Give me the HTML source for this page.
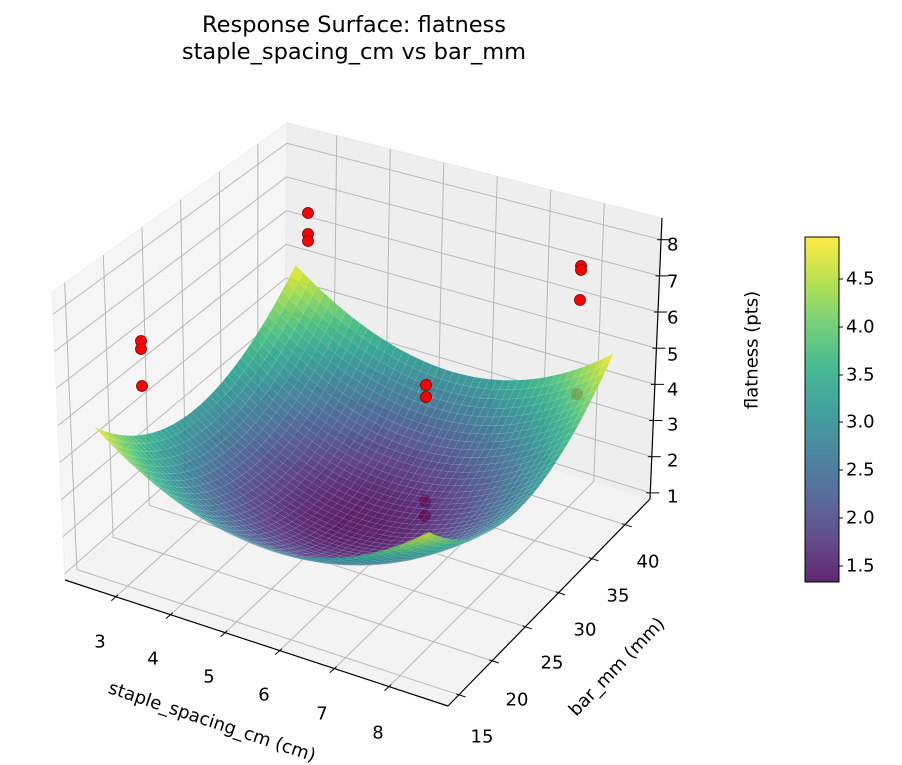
<!DOCTYPE html>
<html><head><meta charset="utf-8"><style>
html,body{margin:0;padding:0;background:#fff;}
svg{display:block;font-family:"DejaVu Sans","Liberation Sans",sans-serif;}
</style></head><body>
<svg id="s" width="902" height="765" viewBox="0 0 902 765" xmlns="http://www.w3.org/2000/svg">
<rect width="902" height="765" fill="#fff"/>
<g id="panes"></g><g id="grid"></g><g id="hidden"></g><g id="surf"></g><g id="axes"></g><g id="pts"></g>
<g font-size="22.5" text-anchor="middle" dominant-baseline="central">
<text x="354" y="25">Response Surface: flatness</text>
<text x="354" y="52">staple_spacing_cm vs bar_mm</text></g>
<g font-size="18" text-anchor="middle" dominant-baseline="central">
<text x="100" y="642">3</text><text x="153" y="659">4</text><text x="209" y="677">5</text>
<text x="264" y="695">6</text><text x="322" y="714">7</text><text x="378" y="733">8</text>
<text x="482" y="737">15</text><text x="517" y="700">20</text><text x="552" y="663">25</text>
<text x="585" y="630">30</text><text x="618" y="596">35</text><text x="648" y="562">40</text>
<g text-anchor="start">
<text x="667" y="497">1</text><text x="667" y="461">2</text><text x="667" y="425">3</text>
<text x="667" y="390">4</text><text x="667" y="355">5</text><text x="667" y="318">6</text>
<text x="667" y="282">7</text><text x="667" y="245">8</text>
</g>
<text transform="translate(212,722) rotate(18.5)">staple_spacing_cm (cm)</text>
<text transform="translate(617,667) rotate(-46)">bar_mm (mm)</text>
<text transform="translate(752,350) rotate(-90)">flatness (pts)</text>
</g>
<defs><linearGradient id="cb" x1="0" y1="1" x2="0" y2="0">
<stop offset="0" stop-color="#440154"/><stop offset="0.125" stop-color="#472d7b"/><stop offset="0.25" stop-color="#3b528b"/>
<stop offset="0.375" stop-color="#2c728e"/><stop offset="0.5" stop-color="#21918c"/><stop offset="0.625" stop-color="#28ae80"/>
<stop offset="0.75" stop-color="#5ec962"/><stop offset="0.875" stop-color="#addc30"/><stop offset="1" stop-color="#fde725"/>
</linearGradient></defs>
<rect x="805" y="237" width="34" height="345" fill="url(#cb)" opacity="0.85"/>
<rect x="805" y="237" width="34" height="345" fill="none" stroke="#000" stroke-width="1"/>
<g stroke="#000" stroke-width="1">
<line x1="839" y1="566" x2="843" y2="566"/><line x1="839" y1="518" x2="843" y2="518"/><line x1="839" y1="470" x2="843" y2="470"/>
<line x1="839" y1="422" x2="843" y2="422"/><line x1="839" y1="375" x2="843" y2="375"/><line x1="839" y1="327" x2="843" y2="327"/>
<line x1="839" y1="279" x2="843" y2="279"/></g>
<g font-size="18" dominant-baseline="central">
<text x="846" y="566">1.5</text><text x="846" y="518">2.0</text><text x="846" y="470">2.5</text><text x="846" y="422">3.0</text>
<text x="846" y="375">3.5</text><text x="846" y="327">4.0</text><text x="846" y="279">4.5</text></g>
</svg>
<script>
(function(){
var NS="http://www.w3.org/2000/svg";
var A=[65,580],B=[448,706],C=[650,499],D=[285,385],E=[52,292],F=[452,399],G=[662,218],H=[287,123];
function bl(p00,p10,p11,p01,u,v){return [p00[0]*(1-u)*(1-v)+p10[0]*u*(1-v)+p11[0]*u*v+p01[0]*(1-u)*v,
 p00[1]*(1-u)*(1-v)+p10[1]*u*(1-v)+p11[1]*u*v+p01[1]*(1-u)*v];}
function P(u,v,w){var b=bl(A,B,C,D,u,v),t=bl(E,F,G,H,u,v);return [b[0]+(t[0]-b[0])*w,b[1]+(t[1]-b[1])*w];}
var X0=2.07,X1=9.08,Y0=13.36,Y1=43.76,Z0=0.83,Z1=8.6;
function U(x){return (x-X0)/(X1-X0);}function V(y){return (y-Y0)/(Y1-Y0);}function W(z){return (z-Z0)/(Z1-Z0);}
function el(p,t,a){var e=document.createElementNS(NS,t);for(var k in a)e.setAttribute(k,a[k]);p.appendChild(e);return e;}
function pts(arr){return arr.map(function(p){return p[0].toFixed(1)+","+p[1].toFixed(1);}).join(" ");}
var panes=document.getElementById("panes"),grid=document.getElementById("grid"),axes=document.getElementById("axes");
el(panes,"polygon",{points:pts([P(0,0,0),P(0,1,0),P(0,1,1),P(0,0,1)]),fill:"#f5f5f5",stroke:"#f0f0f0"});
el(panes,"polygon",{points:pts([P(0,1,0),P(1,1,0),P(1,1,1),P(0,1,1)]),fill:"#eeeeee",stroke:"#e8e8e8"});
el(panes,"polygon",{points:pts([P(0,0,0),P(1,0,0),P(1,1,0),P(0,1,0)]),fill:"#f3f3f3",stroke:"#eeeeee"});
function L(g,p,q,c,w){el(g,"line",{x1:p[0],y1:p[1],x2:q[0],y2:q[1],stroke:c,"stroke-width":w});}
var gc="#b8b8b8";
for(var x=3;x<=8;x++){var u=U(x);L(grid,P(u,0,0),P(u,1,0),gc,1);L(grid,P(u,1,0),P(u,1,1),gc,1);}
for(var y=15;y<=40;y+=5){var v=V(y);L(grid,P(0,v,0),P(1,v,0),gc,1);L(grid,P(0,v,0),P(0,v,1),gc,1);}
for(var z=1;z<=8;z++){var w=W(z);L(grid,P(0,0,w),P(0,1,w),gc,1);L(grid,P(0,1,w),P(1,1,w),gc,1);}
L(axes,P(0,0,0),P(1,0,0),"#000",1.2);L(axes,P(1,0,0),P(1,1,0),"#000",1.2);L(axes,P(1,1,0),P(1,1,1),"#000",1.2);
function nrm(a,b){var dx=b[0]-a[0],dy=b[1]-a[1],l=Math.hypot(dx,dy);return [dx/l,dy/l];}
var dx=nrm(D,A);for(var x=3;x<=8;x++){var p=P(U(x),0,0);L(axes,[p[0]-dx[0]*3,p[1]-dx[1]*3],[p[0]+dx[0]*6,p[1]+dx[1]*6],"#000",1);}
var dy=nrm(A,B);for(var y=15;y<=40;y+=5){var p=P(1,V(y),0);L(axes,[p[0]-dy[0]*3,p[1]-dy[1]*3],[p[0]+dy[0]*7,p[1]+dy[1]*7],"#000",1);}
for(var z=1;z<=8;z++){var p=P(1,1,W(z));L(axes,[p[0]-4,p[1]],[p[0]+9,p[1]],"#000",1);}
var vs=[[68,1,84],[72,40,120],[62,74,137],[49,104,142],[38,130,142],[31,158,137],[53,183,121],[109,205,89],[180,222,44],[253,231,37]];
function vir(t){t=Math.max(0,Math.min(1,t))*9;var i=Math.min(8,Math.floor(t)),f=t-i,a=vs[i],b=vs[i+1];
 return "rgb("+Math.round(a[0]+(b[0]-a[0])*f)+","+Math.round(a[1]+(b[1]-a[1])*f)+","+Math.round(a[2]+(b[2]-a[2])*f)+")";}
function f(x,y){var ddx=x-5.45,ddy=y-28.3;return 1.32+0.1985*ddx*ddx+0.0096*ddy*ddy+0.0012*ddx*ddy-0.03*ddx;}
var N=44,xs=2.5,xe=8.5,ys=15,ye=42,q=[],zmn=1e9,zmx=-1e9;
for(var i=0;i<=N;i++)for(var j=0;j<=N;j++){var zz=f(xs+(xe-xs)*i/N,ys+(ye-ys)*j/N);zmn=Math.min(zmn,zz);zmx=Math.max(zmx,zz);}
for(var i=0;i<N;i++)for(var j=0;j<N;j++){
 var c=[[i,j],[i+1,j],[i+1,j+1],[i,j+1]],poly=[],zs=0,su=0,sv=0;
 c.forEach(function(k){var x=xs+(xe-xs)*k[0]/N,y=ys+(ye-ys)*k[1]/N,z=f(x,y);zs+=z;su+=U(x);sv+=V(y);poly.push(P(U(x),V(y),W(z)));});
 zs/=4;su/=4;sv/=4;q.push({p:poly,d:0.866*sv-0.5*su,z:zs});}
q.sort(function(a,b){return b.d-a.d;});
var surf=document.getElementById("surf");
q.forEach(function(o){var col=vir((o.z-zmn)/(zmx-zmn));
 el(surf,"polygon",{points:pts(o.p),fill:col,"fill-opacity":"0.87",stroke:"rgba(255,255,255,0.18)","stroke-width":"0.4"});});
var hid=document.getElementById("hidden"),vis=document.getElementById("pts");
[[577,394],[425,501],[425,516]].forEach(function(p){el(hid,"circle",{cx:p[0],cy:p[1],r:5.5,fill:"#ff0000",stroke:"#700000","stroke-width":0.8});});
[[308,213],[308,234],[308,241],[141,341],[141,349],[142,386],[426,385],[426,397],[581,266],[581,270],[580,300]].forEach(function(p){
 el(vis,"circle",{cx:p[0],cy:p[1],r:5.5,fill:"#ff0000",stroke:"#700000","stroke-width":0.8});});
})();
</script>
</body></html>
